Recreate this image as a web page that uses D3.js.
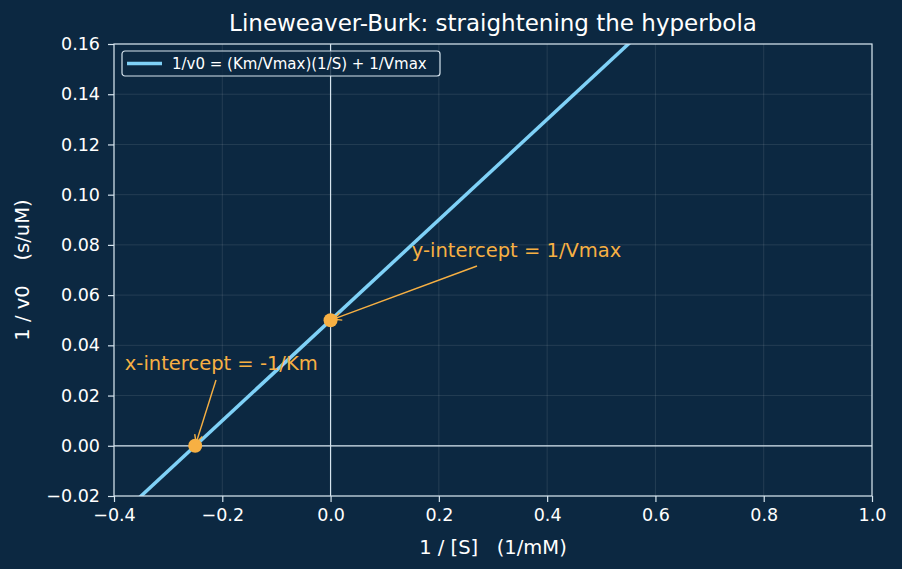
<!DOCTYPE html>
<html>
<head>
<meta charset="utf-8">
<script src="https://cdn.jsdelivr.net/npm/d3@7"></script>
<style>
  body { margin: 0; background: #0c2841; }
  text { font-family: "DejaVu Sans", sans-serif; }
</style>
</head>
<body>
<div id="chart"></div>
<script>
// data
var lineX = [-0.4, 1.0];
var Km = 4;          // x-intercept -1/Km = -0.25
var Vmax = 20;       // y-intercept 1/Vmax = 0.05
var xTicks = [-0.4, -0.2, 0.0, 0.2, 0.4, 0.6, 0.8, 1.0];
var yTicks = [-0.02, 0.0, 0.02, 0.04, 0.06, 0.08, 0.10, 0.12, 0.14, 0.16];
var points = [{x: -1 / Km, y: 0}, {x: 0, y: 1 / Vmax}];
var notes = [
  {text: "x-intercept = -1/Km", tx: -0.38, ty: 0.03, px: -0.25, py: 0, ax: 216, ay: 380},
  {text: "y-intercept = 1/Vmax", tx: 0.15, ty: 0.075, px: 0, py: 0.05, ax: 477, ay: 266}
];

var W = 902, H = 569;
var m = {left: 114, right: 30, top: 44, bottom: 73};
var bg = "#0c2841", fg = "#ffffff", spine = "#d6e4ee", orange = "#f7b043", blue = "#7fd1f7";

var svg = d3.select("#chart").append("svg")
  .attr("width", W).attr("height", H);
svg.append("rect").attr("width", W).attr("height", H).attr("fill", bg);

var x = d3.scaleLinear().domain([-0.4, 1.0]).range([m.left, W - m.right]);
var y = d3.scaleLinear().domain([-0.02, 0.16]).range([H - m.bottom, m.top]);

var defs = svg.append("defs");
defs.append("clipPath").attr("id", "clip").append("rect")
  .attr("x", m.left).attr("y", m.top)
  .attr("width", x(1.0) - m.left).attr("height", y(-0.02) - m.top);

// grid
svg.append("g").selectAll("line").data(xTicks).join("line")
  .attr("x1", d => x(d)).attr("x2", d => x(d))
  .attr("y1", m.top).attr("y2", H - m.bottom)
  .attr("stroke", "#ffffff").attr("stroke-opacity", 0.15).attr("stroke-width", 0.7);
svg.append("g").selectAll("line").data(yTicks).join("line")
  .attr("y1", d => y(d)).attr("y2", d => y(d))
  .attr("x1", m.left).attr("x2", W - m.right)
  .attr("stroke", "#ffffff").attr("stroke-opacity", 0.15).attr("stroke-width", 0.7);

// zero lines
svg.append("line").attr("x1", m.left).attr("x2", W - m.right)
  .attr("y1", y(0)).attr("y2", y(0))
  .attr("stroke", spine).attr("stroke-width", 1.2);
svg.append("line").attr("x1", x(0)).attr("x2", x(0))
  .attr("y1", m.top).attr("y2", H - m.bottom)
  .attr("stroke", spine).attr("stroke-width", 1.2);

// line
svg.append("path")
  .datum(lineX.map(v => ({x: v, y: v / Vmax * Km + 1 / Vmax})))
  .attr("clip-path", "url(#clip)")
  .attr("fill", "none").attr("stroke", blue).attr("stroke-width", 3.5)
  .attr("d", d3.line().x(d => x(d.x)).y(d => y(d.y)));

// axes
var fmtX = d => d3.format(".1f")(d).replace("-", "\u2212");
var fmtY = d => d3.format(".2f")(d).replace("-", "\u2212");
var gx = svg.append("g").attr("transform", "translate(0," + (H - m.bottom) + ")")
  .call(d3.axisBottom(x).tickValues(xTicks).tickFormat(fmtX).tickSize(6).tickPadding(7));
var gy = svg.append("g").attr("transform", "translate(" + m.left + ",0)")
  .call(d3.axisLeft(y).tickValues(yTicks).tickFormat(fmtY).tickSize(6).tickPadding(8));
[gx, gy].forEach(function(g) {
  g.attr("font-size", null).attr("font-family", null);
  g.select(".domain").remove();
  g.selectAll("line").attr("stroke", spine).attr("stroke-width", 1.2);
  g.selectAll("text").attr("fill", fg).style("font-size", "17.5px");
});

// frame
svg.append("rect").attr("x", m.left).attr("y", m.top)
  .attr("width", x(1.0) - m.left).attr("height", y(-0.02) - m.top)
  .attr("fill", "none").attr("stroke", spine).attr("stroke-width", 1.2);

// arrows
defs.append("marker").attr("id", "arr")
  .attr("viewBox", "0 0 10 10").attr("refX", 9).attr("refY", 5)
  .attr("markerWidth", 10).attr("markerHeight", 10).attr("markerUnits", "userSpaceOnUse")
  .attr("orient", "auto")
  .append("path").attr("d", "M1,1 L9,5 L1,9").attr("fill", "none")
  .attr("stroke", orange).attr("stroke-width", 1.4);

notes.forEach(function(d) {
  svg.append("text").attr("x", x(d.tx)).attr("y", y(d.ty))
    .attr("fill", orange).style("font-size", "19.5px").text(d.text);
  var tx = x(d.px), ty = y(d.py);
  var dx = tx - d.ax, dy = ty - d.ay, len = Math.sqrt(dx * dx + dy * dy);
  svg.append("line").attr("x1", d.ax).attr("y1", d.ay)
    .attr("x2", tx - dx / len * 3).attr("y2", ty - dy / len * 3)
    .attr("stroke", orange).attr("stroke-width", 1.4)
    .attr("marker-end", "url(#arr)");
});

// points
svg.append("g").selectAll("circle").data(points).join("circle")
  .attr("cx", d => x(d.x)).attr("cy", d => y(d.y)).attr("r", 7)
  .attr("fill", orange);

// legend
var lg = svg.append("g").attr("transform", "translate(122,51)");
lg.append("rect").attr("width", 318).attr("height", 25).attr("rx", 3)
  .attr("fill", bg).attr("fill-opacity", 0.8)
  .attr("stroke", spine).attr("stroke-width", 1.2);
lg.append("line").attr("x1", 5).attr("x2", 40).attr("y1", 12.5).attr("y2", 12.5)
  .attr("stroke", blue).attr("stroke-width", 3.5);
lg.append("text").attr("x", 50).attr("y", 18).attr("fill", fg)
  .style("font-size", "15px").text("1/v0 = (Km/Vmax)(1/S) + 1/Vmax");

// titles
svg.append("text").attr("x", (m.left + W - m.right) / 2).attr("y", 31)
  .attr("text-anchor", "middle").attr("fill", fg).style("font-size", "23px")
  .text("Lineweaver-Burk: straightening the hyperbola");
svg.append("text").attr("x", (m.left + W - m.right) / 2).attr("y", 554)
  .attr("text-anchor", "middle").attr("fill", fg).style("font-size", "19.5px")
  .style("white-space", "pre")
  .text("1 / [S]   (1/mM)");
svg.append("text").attr("transform", "translate(29," + ((m.top + H - m.bottom) / 2) + ") rotate(-90)")
  .attr("text-anchor", "middle").attr("fill", fg).style("font-size", "19.5px")
  .style("white-space", "pre")
  .text("1 / v0    (s/uM)");
</script>
</body>
</html>
